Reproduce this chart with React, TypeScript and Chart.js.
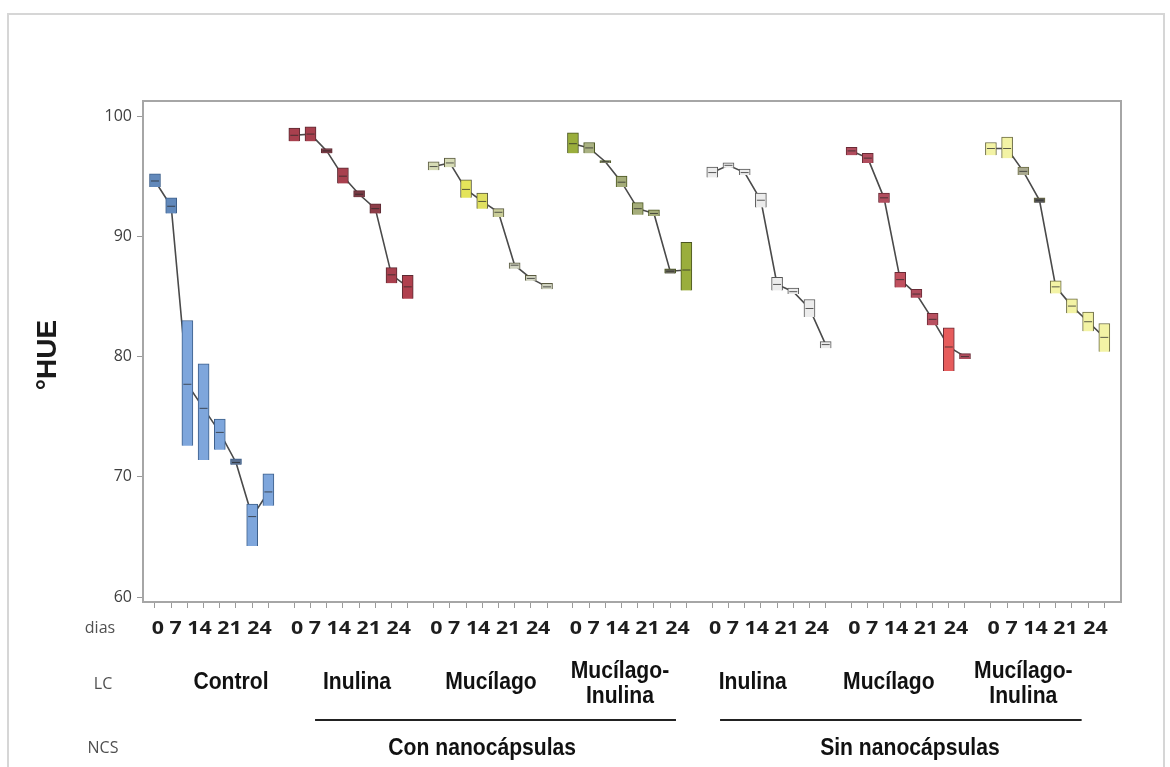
import React, { useEffect, useRef } from "react";
import { Chart, registerables } from "chart.js";
Chart.register(...registerables);

// ---------- data ----------
const lcLabels = ["Control", "Inulina", "Mucílago", "Mucílago-\nInulina", "Inulina", "Mucílago", "Mucílago-\nInulina"];
const ncsLabels = ["Con nanocápsulas", "Sin nanocápsulas"];
const dayLabels = ["0", "7", "14", "21", "24"];
const yTicks = [60, 70, 80, 90, 100];

const controlLow = [94.1, 91.9, 72.6, 71.4, 72.25, 71.0, 64.25, 67.6];
const controlHigh = [95.2, 93.2, 83.0, 79.4, 74.8, 71.5, 67.75, 70.25];
const controlMean = [94.6, 92.5, 77.7, 75.7, 73.7, 71.2, 66.7, 68.75];

const inulinaConLow = [97.9, 97.9, 96.9, 94.4, 93.25, 91.9, 86.1, 84.8];
const inulinaConHigh = [99.0, 99.1, 97.3, 95.7, 93.8, 92.7, 87.4, 86.75];
const inulinaConMean = [98.4, 98.5, 97.1, 95.0, 93.5, 92.3, 86.8, 85.8];

const mucilagoConLow = [95.5, 95.75, 93.2, 92.3, 91.6, 87.3, 86.3, 85.6];
const mucilagoConHigh = [96.2, 96.5, 94.7, 93.6, 92.3, 87.8, 86.75, 86.1];
const mucilagoConMean = [95.8, 96.1, 93.9, 92.9, 92.0, 87.6, 86.5, 85.8];

const mucInuConLow = [96.9, 96.9, 96.1, 94.1, 91.8, 91.7, 86.9, 85.5];
const mucInuConHigh = [98.6, 97.8, 96.3, 95.0, 92.8, 92.2, 87.3, 89.5];
const mucInuConMean = [97.7, 97.35, 96.2, 94.5, 92.3, 91.9, 87.1, 87.2];

const inulinaSinLow = [94.9, 95.7, 95.1, 92.4, 85.5, 85.2, 83.3, 80.7];
const inulinaSinHigh = [95.75, 96.1, 95.6, 93.6, 86.6, 85.7, 84.75, 81.25];
const inulinaSinMean = [95.3, 95.9, 95.3, 93.0, 86.0, 85.4, 84.0, 81.0];

const mucilagoSinLow = [96.75, 96.1, 92.8, 85.75, 84.9, 82.6, 78.8, 79.8];
const mucilagoSinHigh = [97.4, 96.9, 93.6, 87.0, 85.6, 83.6, 82.4, 80.25];
const mucilagoSinMean = [97.1, 96.5, 93.2, 86.4, 85.2, 83.1, 80.8, 80.0];

const mucInuSinLow = [96.75, 96.5, 95.1, 92.8, 85.25, 83.6, 82.1, 80.4];
const mucInuSinHigh = [97.8, 98.25, 95.75, 93.2, 86.3, 84.8, 83.7, 82.75];
const mucInuSinMean = [97.3, 97.3, 95.4, 93.0, 85.8, 84.2, 82.9, 81.6];

const lows = [controlLow, inulinaConLow, mucilagoConLow, mucInuConLow, inulinaSinLow, mucilagoSinLow, mucInuSinLow];
const highs = [controlHigh, inulinaConHigh, mucilagoConHigh, mucInuConHigh, inulinaSinHigh, mucilagoSinHigh, mucInuSinHigh];
const means = [controlMean, inulinaConMean, mucilagoConMean, mucInuConMean, inulinaSinMean, mucilagoSinMean, mucInuSinMean];

// ---------- styles / layout ----------
const fillColors = [
  ["#6289bb", "#6289bb", "#7ea6dc", "#7ea6dc", "#7ea6dc", "#5a7090", "#7ea6dc", "#7ea6dc"],
  ["#a8404e", "#a8404e", "#7a3a44", "#a8404e", "#7a3a44", "#8e3d48", "#a8404e", "#b0404e"],
  ["#d6dbb5", "#d6dbb5", "#e4e45a", "#e0e060", "#c9cd98", "#cfd2bf", "#cfd2bf", "#cfd2bf"],
  ["#9aae3c", "#aab282", "#8c9070", "#a5ad7a", "#a5ad7a", "#a5ad7a", "#6a6a5a", "#9aae3c"],
  ["#ececec", "#ececec", "#ececec", "#ececec", "#ececec", "#ececec", "#ececec", "#ececec"],
  ["#b14d5e", "#b14d5e", "#b14d5e", "#c0505e", "#b14d5e", "#b85060", "#e65c5c", "#b14d5e"],
  ["#f3f3a5", "#f3f3a5", "#a9a98f", "#555555", "#f3f3a5", "#f3f3a5", "#f3f3a5", "#f3f3a5"],
];
const edgeColors = ["#3d5f8a", "#5b2a32", "#5a5a40", "#4a5520", "#555555", "#6a2a35", "#6a6a40"];
const GROUP_STEP = 8.6;
const pos = (g: number, k: number) => g * GROUP_STEP + k;
const lcLabelX = [4.69, 12.47, 20.74, 28.7, 36.9, 45.3, 53.6];
const ncsLabelX = [20.2, 46.6];
const ncsLineX = [[9.88, 32.16], [34.88, 57.2]];

const barData: any[] = [];
const barFill: string[] = [];
const barEdge: string[] = [];
const tickValues: number[] = [];
lows.forEach((arr, g) => {
  arr.forEach((lo, k) => {
    barData.push({ x: pos(g, k), y: [lo, highs[g][k]] });
    barFill.push(fillColors[g][k]);
    barEdge.push(edgeColors[g]);
    tickValues.push(pos(g, k));
  });
});

const lineSets = means.map((arr, g) => ({
  type: "line" as const,
  data: arr.map((v, k) => ({ x: pos(g, k), y: v })),
  borderColor: "#4a4a4a",
  borderWidth: 1.6,
  pointRadius: 0,
  order: 3,
}));

const markerSet = {
  type: "line" as const,
  data: means.flatMap((arr, g) => arr.map((v, k) => ({ x: pos(g, k), y: v }))),
  showLine: false,
  pointStyle: "line" as const,
  pointRadius: 4,
  pointBorderColor: "rgba(40,40,40,0.75)",
  pointBorderWidth: 1,
  order: 0,
};

function txt(ctx: CanvasRenderingContext2D, s: string, x: number, y: number, font: string, color: string, sx = 1, fitW = 0) {
  ctx.save();
  ctx.font = font;
  if (fitW > 0) sx = fitW / ctx.measureText(s).width;
  ctx.translate(x, y);
  ctx.scale(sx, 1);
  ctx.fillStyle = color;
  ctx.textAlign = "center";
  ctx.textBaseline = "middle";
  ctx.fillText(s, 0, 0);
  ctx.restore();
}

const annotations = {
  id: "annotations",
  afterDraw(chart: any) {
    const ctx: CanvasRenderingContext2D = chart.ctx;
    const a = chart.chartArea;
    const xs = chart.scales.x;
    ctx.save();
    // outer frame
    ctx.strokeStyle = "#d6d6d6";
    ctx.lineWidth = 2;
    ctx.strokeRect(8, 14, 1156, 800);
    // plot frame
    ctx.strokeStyle = "#a6a6a6";
    ctx.lineWidth = 2;
    ctx.strokeRect(a.left, a.top, a.right - a.left, a.bottom - a.top);
    // y title
    ctx.save();
    ctx.translate(48, 355);
    ctx.rotate(-Math.PI / 2);
    txt(ctx, "°HUE", 0, 0, 'bold 28px "Liberation Sans"', "#1a1a1a");
    ctx.restore();
    // row labels
    const rowFont = '16px "Open Sans"';
    txt(ctx, "dias", 100, 628, rowFont, "#505050");
    txt(ctx, "LC", 103, 684, rowFont, "#505050");
    txt(ctx, "NCS", 103, 748, rowFont, "#505050");
    // days
    for (let g = 0; g < lcLabels.length; g++) {
      const cx = xs.getPixelForValue(pos(g, 3.5));
      txt(ctx, dayLabels.join(" "), cx, 629, 'bold 18px "Open Sans"', "#1e1e1e", 1, 120);
    }
    // LC labels
    const lcFont = 'bold 24px "Liberation Sans"';
    lcLabels.forEach((lab, g) => {
      const cx = xs.getPixelForValue(lcLabelX[g]);
      const lines = lab.split("\n");
      if (lines.length === 1) {
        txt(ctx, lines[0], cx, 682, lcFont, "#111", 0.88);
      } else {
        txt(ctx, lines[0], cx, 671, lcFont, "#111", 0.88);
        txt(ctx, lines[1], cx, 696, lcFont, "#111", 0.88);
      }
    });
    // NCS lines & labels
    ctx.strokeStyle = "#222";
    ctx.lineWidth = 2;
    ncsLineX.forEach(([x0, x1]) => {
      ctx.beginPath();
      ctx.moveTo(xs.getPixelForValue(x0), 720);
      ctx.lineTo(xs.getPixelForValue(x1), 720);
      ctx.stroke();
    });
    ncsLabels.forEach((lab, i) => {
      txt(ctx, lab, xs.getPixelForValue(ncsLabelX[i]), 748, lcFont, "#111", 0.88);
    });
    ctx.restore();
  },
};

export default function App() {
  const ref = useRef<HTMLCanvasElement>(null);
  useEffect(() => {
    document.body.style.margin = "0";
    const chart = new Chart(ref.current!, {
      type: "bar",
      data: {
        datasets: [
          {
            type: "bar",
            data: barData,
            backgroundColor: barFill,
            borderColor: barEdge,
            borderWidth: 1,
            barThickness: 11,
            order: 1,
          } as any,
          ...(lineSets as any[]),
          markerSet as any,
        ],
      },
      options: {
        responsive: false,
        animation: false,
        events: [],
        layout: { padding: { left: 0, top: 101, right: 49, bottom: 0 } },
        plugins: { legend: { display: false }, tooltip: { enabled: false }, title: { display: false } },
        scales: {
          x: {
            type: "linear",
            offset: false,
            min: -0.74,
            max: 59.63,
            afterBuildTicks: (s: any) => {
              s.ticks = tickValues.map((v) => ({ value: v }));
            },
            afterFit: (s: any) => {
              s.height = 165;
            },
            ticks: { callback: () => "", autoSkip: false, maxRotation: 0 },
            grid: { offset: false, drawOnChartArea: false, drawTicks: true, tickLength: 6, color: "#9a9a9a", lineWidth: 1 },
            border: { display: true, color: "#a6a6a6", width: 2 },
          },
          y: {
            type: "linear",
            min: 59.6,
            max: 101.25,
            afterBuildTicks: (s: any) => {
              s.ticks = yTicks.map((v) => ({ value: v }));
            },
            afterFit: (s: any) => {
              s.width = 143;
            },
            ticks: { font: { family: "Open Sans", size: 16 }, color: "#404040", padding: 5 },
            grid: { drawOnChartArea: false, drawTicks: true, tickLength: 6, color: "#9a9a9a" },
            border: { display: true, color: "#a6a6a6", width: 2 },
          },
        },
      },
      plugins: [annotations],
    } as any);
    return () => chart.destroy();
  }, []);
  return (
    <div style={{ width: 1170, height: 767, background: "#fff" }}>
      <canvas ref={ref} width={1170} height={767} style={{ display: "block" }} />
    </div>
  );
}
